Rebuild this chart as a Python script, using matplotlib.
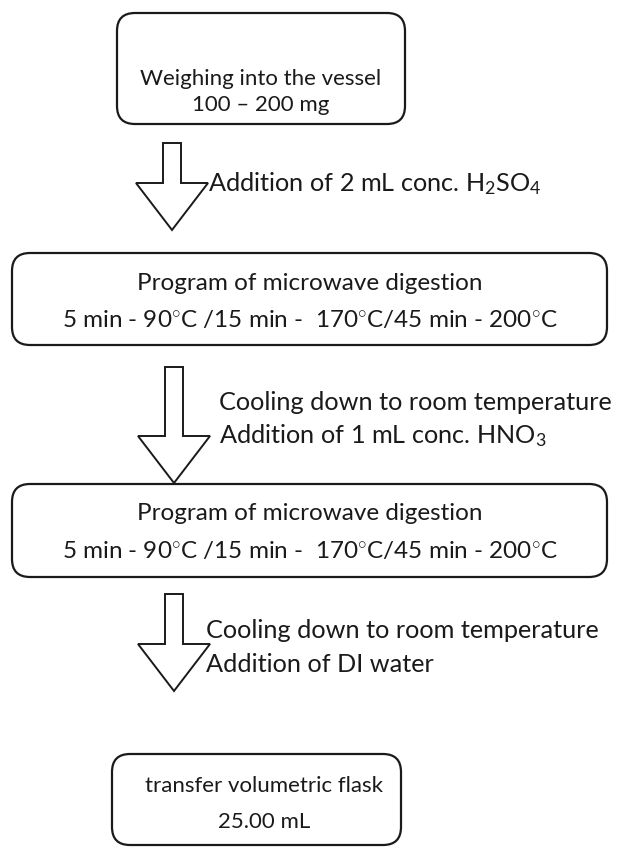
"""Flowchart of the microwave digestion procedure."""

import matplotlib.pyplot as plt
from matplotlib.patches import FancyBboxPatch, Polygon

plt.rcParams["font.family"] = ["Lato", "DejaVu Sans"]
plt.rcParams["mathtext.fontset"] = "custom"
plt.rcParams["mathtext.rm"] = "Lato"
plt.rcParams["mathtext.it"] = "Lato"

# box text (lines inside each step box)
box_lines = [
    ["Weighing into the vessel", "100 – 200 mg"],
    ["Program of microwave digestion",
     r"5 min - 90$^{\circ}$C /15 min -  170$^{\circ}$C/45 min - 200$^{\circ}$C"],
    ["Program of microwave digestion",
     r"5 min - 90$^{\circ}$C /15 min -  170$^{\circ}$C/45 min - 200$^{\circ}$C"],
    ["transfer volumetric flask", "25.00 mL"],
]
# text next to each arrow
arrow_lines = [
    [r"Addition of 2 mL conc. H$_2$SO$_4$"],
    ["Cooling down to room temperature", r"Addition of 1 mL conc. HNO$_3$"],
    ["Cooling down to room temperature", "Addition of DI water"],
]

# layout in pixel units (x0, y0, x1, y1)
boxes = [(117, 13, 405, 124), (12, 253, 607, 345), (12, 484, 607, 577), (112, 754, 401, 845)]
text_x = [261, 310, 310, 264]
text_y = [(79, 105), (283, 320), (514, 551), (786, 822)]
box_fs = [16, 17.5, 17.5, 16]
arrows = [(172, 143, 230), (174, 367, 483), (174, 594, 691)]
arrow_text = [(208, [184]), (219, [402, 436]), (206, [631, 664])]

fig = plt.figure(figsize=(6.19, 8.47), dpi=100)
ax = fig.add_axes([0, 0, 1, 1])
ax.set_xlim(0, 619)
ax.set_ylim(847, 0)
ax.axis("off")

fs = 18.2
for (x0, y0, x1, y1), lines, tx, ty, bfs in zip(boxes, box_lines, text_x, text_y, box_fs):
    pad = 18
    ax.add_patch(FancyBboxPatch((x0 + pad, y0 + pad), x1 - x0 - 2 * pad, y1 - y0 - 2 * pad,
                                boxstyle=f"round,pad={pad}", fc="white", ec="#1a1a1a", lw=1.6))
    for line, y in zip(lines, ty):
        ax.text(tx, y, line, ha="center", va="center", fontsize=bfs, color="#1a1a1a")

for (cx, top, tip), (ax_x, ys), lines in zip(arrows, arrow_text, arrow_lines):
    sw, hw, hh = 9, 36, 47
    pts = [(cx - sw, top), (cx + sw, top), (cx + sw, tip - hh), (cx + hw, tip - hh),
           (cx, tip), (cx - hw, tip - hh), (cx - sw, tip - hh)]
    ax.add_patch(Polygon(pts, closed=True, fc="white", ec="#1a1a1a", lw=1.4, joinstyle="miter"))
    for line, y in zip(lines, ys):
        ax.text(ax_x, y, line, ha="left", va="center", fontsize=fs, color="#1a1a1a")

fig.savefig("out.png", dpi=100)
